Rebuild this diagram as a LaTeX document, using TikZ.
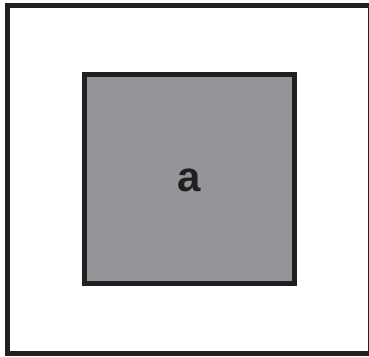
\documentclass[tikz,border=0pt]{standalone}
\usepackage{fontspec}
\setmainfont{Liberation Sans}
\definecolor{frameblack}{HTML}{231F20}
\definecolor{boxgray}{HTML}{939598}
\tikzset{
  frame/.style={draw=frameblack, line width=5pt},
  innerbox/.style={draw=frameblack, line width=5pt, fill=boxgray},
  lbl/.style={font=\bfseries\fontsize{42}{42}\selectfont, text=frameblack, inner sep=0pt}
}
\begin{document}
\begin{tikzpicture}[x=1pt,y=-1pt]
\useasboundingbox (0,0) rectangle (369,356);
\clip (0,0) rectangle (369,356);
\fill[white] (0,0) rectangle (369,356);
\coordinate (o1) at (7.5,5.5);
\coordinate (o2) at (370.5,353.5);
\draw[frame] (o1) rectangle (o2);
\coordinate (i1) at (84.5,74.5);
\coordinate (i2) at (294.5,283.5);
\draw[innerbox] (i1) rectangle (i2);
\node[lbl] (a) at (189.5,180) {a};
\end{tikzpicture}
\end{document}
